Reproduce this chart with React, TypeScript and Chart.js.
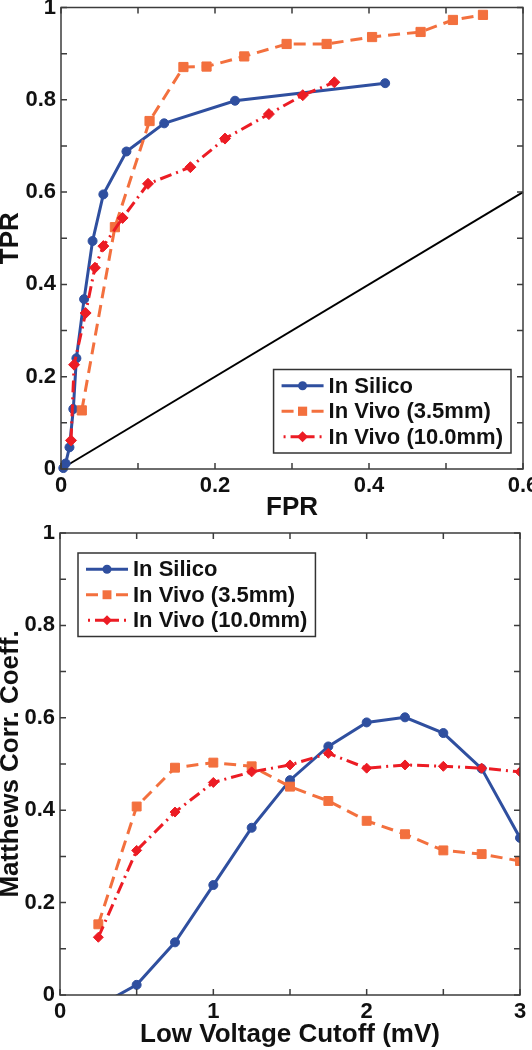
import React, { useEffect, useRef } from 'react';
import { Chart, registerables } from 'chart.js';

Chart.register(...registerables);

const FONT = '"Liberation Sans", Arial, Helvetica, sans-serif';
const BLUE = '#2f4f9f';
const ORANGE = '#f3703e';
const RED = '#ec1c24';
const AXIS = '#3c3c3c';

// ---- ROC curve data (top panel) ----
const silicoFpr = [0.003, 0.006, 0.011, 0.016, 0.02, 0.03, 0.041, 0.055, 0.085, 0.134, 0.226, 0.421];
const silicoTpr = [0.002, 0.012, 0.047, 0.13, 0.24, 0.368, 0.494, 0.595, 0.688, 0.749, 0.798, 0.836];
const vivo35Fpr = [0.027, 0.07, 0.115, 0.159, 0.189, 0.238, 0.293, 0.345, 0.404, 0.467, 0.509, 0.548];
const vivo35Tpr = [0.127, 0.524, 0.754, 0.871, 0.872, 0.894, 0.921, 0.921, 0.936, 0.947, 0.973, 0.984];
const vivo10Fpr = [0.013, 0.017, 0.032, 0.044, 0.055, 0.08, 0.113, 0.168, 0.213, 0.27, 0.314, 0.355];
const vivo10Tpr = [0.062, 0.226, 0.338, 0.436, 0.483, 0.544, 0.618, 0.654, 0.716, 0.769, 0.81, 0.838];
const chanceFpr = [0, 0.6];
const chanceTpr = [0, 0.6];

// ---- Matthews correlation data (bottom panel) ----
const cutoffs = [0.25, 0.5, 0.75, 1.0, 1.25, 1.5, 1.75, 2.0, 2.25, 2.5, 2.75, 3.0];
const silicoMcc = [-0.024, 0.022, 0.114, 0.238, 0.362, 0.465, 0.538, 0.59, 0.601, 0.567, 0.49, 0.34];
const vivo35Mcc = [0.153, 0.408, 0.492, 0.503, 0.495, 0.451, 0.42, 0.377, 0.348, 0.313, 0.305, 0.29];
const vivo10Mcc = [0.125, 0.313, 0.396, 0.46, 0.483, 0.498, 0.523, 0.491, 0.498, 0.495, 0.491, 0.483];

const seriesLabels = ['In Silico', 'In Vivo (3.5mm)', 'In Vivo (10.0mm)'];

const zip = (xs: number[], ys: number[]) => xs.map((x, i) => ({ x, y: ys[i] }));
const isMultiple = (v: number, step: number) => Math.abs(v / step - Math.round(v / step)) < 1e-6;
const fmt = (v: number) => String(Math.round(v * 10) / 10);

const tickFont = { family: FONT, size: 22, weight: 'bold' as const };
const titleFont = { family: FONT, size: 26, weight: 'bold' as const };

function drawMarker(ctx: CanvasRenderingContext2D, style: string, x: number, y: number, r: number) {
  ctx.beginPath();
  if (style === 'circle') {
    ctx.arc(x, y, r, 0, Math.PI * 2);
  } else if (style === 'rect') {
    const s = Math.SQRT1_2 * r;
    ctx.rect(x - s, y - s, 2 * s, 2 * s);
  } else {
    ctx.moveTo(x - r, y);
    ctx.lineTo(x, y - r);
    ctx.lineTo(x + r, y);
    ctx.lineTo(x, y + r);
    ctx.closePath();
  }
  ctx.fill();
}

const framePlugin = {
  id: 'frame',
  afterDatasetsDraw(chart: any, _args: any, opts: any) {
    const { ctx, chartArea: a, scales } = chart;
    ctx.save();
    ctx.strokeStyle = opts.color;
    ctx.lineWidth = opts.lineWidth;
    ctx.setLineDash([]);
    ctx.strokeRect(a.left, a.top, a.right - a.left, a.bottom - a.top);
    const L = opts.tickLength;
    ctx.beginPath();
    for (const t of scales.x.ticks) {
      const px = scales.x.getPixelForValue(t.value);
      ctx.moveTo(px, a.bottom);
      ctx.lineTo(px, a.bottom - L);
      ctx.moveTo(px, a.top);
      ctx.lineTo(px, a.top + L);
    }
    for (const t of scales.y.ticks) {
      const py = scales.y.getPixelForValue(t.value);
      ctx.moveTo(a.left, py);
      ctx.lineTo(a.left + L, py);
      ctx.moveTo(a.right, py);
      ctx.lineTo(a.right - L, py);
    }
    ctx.stroke();
    ctx.restore();
  },
};

const legendPlugin = {
  id: 'boxLegend',
  afterDraw(chart: any, _args: any, opts: any) {
    const { ctx, chartArea: a } = chart;
    const items = chart.data.datasets.filter((d: any) => d.label);
    ctx.save();
    ctx.font = `bold ${opts.fontSize}px ${FONT}`;
    const textW = Math.max(...items.map((d: any) => ctx.measureText(d.label).width));
    const w = opts.padLeft + opts.sample + opts.gap + textW + opts.padRight;
    const h = opts.padV * 2 + opts.rowHeight * items.length;
    const x0 = opts.left !== undefined ? a.left + opts.left : a.right - opts.right - w;
    const y0 = opts.top !== undefined ? a.top + opts.top : a.bottom - opts.bottom - h;
    ctx.fillStyle = '#fff';
    ctx.fillRect(x0, y0, w, h);
    ctx.strokeStyle = opts.borderColor;
    ctx.lineWidth = opts.borderWidth;
    ctx.strokeRect(x0, y0, w, h);
    items.forEach((d: any, i: number) => {
      const cy = y0 + opts.padV + opts.rowHeight * (i + 0.5);
      const cx = x0 + opts.padLeft + opts.sample / 2;
      const half = opts.sample / 2;
      ctx.strokeStyle = d.borderColor;
      ctx.lineWidth = d.borderWidth;
      ctx.setLineDash(d.borderDash || []);
      ctx.lineDashOffset = d.legendDashOffset || 0;
      for (const dir of [-1, 1]) {
        ctx.beginPath();
        ctx.moveTo(cx, cy);
        ctx.lineTo(cx + dir * half, cy);
        ctx.stroke();
      }
      ctx.setLineDash([]);
      ctx.fillStyle = d.pointBackgroundColor;
      drawMarker(ctx, d.pointStyle, cx, cy, d.pointRadius);
      ctx.fillStyle = '#111';
      ctx.textBaseline = 'middle';
      ctx.textAlign = 'left';
      ctx.fillText(d.label, x0 + opts.padLeft + opts.sample + opts.gap, cy + 1);
    });
    ctx.restore();
  },
};

const legendStyle = {
  fontSize: 22,
  rowHeight: 25.5,
  padV: 3.5,
  padLeft: 8,
  sample: 42,
  gap: 5,
  padRight: 8,
  borderColor: '#333',
  borderWidth: 1.5,
};

function makeSeries(dataA: any[], dataB: any[], dataC: any[], r: { circle: number; rect: number; diamond: number }, clip: any) {
  return [
    {
      label: seriesLabels[0],
      data: dataA,
      borderColor: BLUE,
      backgroundColor: BLUE,
      borderWidth: 3,
      pointStyle: 'circle',
      pointRadius: r.circle,
      pointBackgroundColor: BLUE,
      pointBorderColor: BLUE,
      pointBorderWidth: 1,
      order: 2,
      clip,
    },
    {
      label: seriesLabels[1],
      data: dataB,
      borderColor: ORANGE,
      backgroundColor: ORANGE,
      borderWidth: 3,
      borderDash: [12, 7],
      legendDashOffset: 10,
      pointStyle: 'rect',
      pointRadius: r.rect,
      pointBackgroundColor: ORANGE,
      pointBorderColor: ORANGE,
      pointBorderWidth: 1,
      order: 1,
      clip,
    },
    {
      label: seriesLabels[2],
      data: dataC,
      borderColor: RED,
      backgroundColor: RED,
      borderWidth: 3,
      borderDash: [12, 5, 2, 5],
      pointStyle: 'rectRot',
      pointRadius: r.diamond,
      pointBackgroundColor: RED,
      pointBorderColor: RED,
      pointBorderWidth: 1,
      order: 0,
      clip,
    },
  ];
}

function axis(opts: {
  min: number;
  max: number;
  step: number;
  labelStep: number;
  title: string;
  titleFont: any;
  titlePadding: any;
  padding: number;
  size: number;
  horizontal: boolean;
}) {
  return {
    type: 'linear',
    min: opts.min,
    max: opts.max,
    grid: { display: false, drawTicks: false },
    border: { display: false },
    ticks: {
      stepSize: opts.step,
      autoSkip: false,
      maxRotation: 0,
      minRotation: 0,
      padding: opts.padding,
      color: '#111',
      font: tickFont,
      callback: (v: number) => (isMultiple(v, opts.labelStep) ? fmt(v) : ''),
    },
    title: {
      display: true,
      text: opts.title,
      color: '#111',
      font: opts.titleFont,
      padding: opts.titlePadding,
    },
    afterFit: (s: any) => {
      if (opts.horizontal) {
        s.height = opts.size;
        s.paddingLeft = 0;
        s.paddingRight = 0;
      } else {
        s.width = opts.size;
        s.paddingTop = 0;
        s.paddingBottom = 0;
      }
    },
  };
}

function rocConfig(): any {
  const datasets: any[] = makeSeries(
    zip(silicoFpr, silicoTpr),
    zip(vivo35Fpr, vivo35Tpr),
    zip(vivo10Fpr, vivo10Tpr),
    { circle: 4.5, rect: 6.5, diamond: 5.5 },
    false
  );
  datasets.push({
    label: '',
    data: zip(chanceFpr, chanceTpr),
    borderColor: '#000',
    borderWidth: 2,
    pointRadius: 0,
    order: 3,
    clip: false,
  });
  return {
    type: 'line',
    data: { datasets },
    options: {
      animation: false,
      responsive: false,
      devicePixelRatio: 1,
      events: [],
      layout: { padding: { left: 0, top: 5, right: 9, bottom: 0 } },
      plugins: {
        legend: { display: false },
        tooltip: { enabled: false },
        frame: { color: AXIS, lineWidth: 1.5, tickLength: 6 },
        boxLegend: { ...legendStyle, right: 12, bottom: 16 },
      },
      scales: {
        x: axis({ min: 0, max: 0.6, step: 0.1, labelStep: 0.2, title: 'FPR', titleFont, titlePadding: { top: 0, bottom: 2 }, padding: 4, size: 56, horizontal: true }),
        y: axis({ min: 0, max: 1, step: 0.1, labelStep: 0.2, title: 'TPR', titleFont: { ...titleFont, lineHeight: '22px' }, titlePadding: { top: 0, bottom: 0 }, padding: 5, size: 61, horizontal: false }),
      },
    },
    plugins: [framePlugin, legendPlugin],
  };
}

function mccConfig(): any {
  const datasets: any[] = makeSeries(
    zip(cutoffs, silicoMcc),
    zip(cutoffs, vivo35Mcc),
    zip(cutoffs, vivo10Mcc),
    { circle: 4.5, rect: 6.3, diamond: 5 },
    undefined
  );
  return {
    type: 'line',
    data: { datasets },
    options: {
      animation: false,
      responsive: false,
      devicePixelRatio: 1,
      events: [],
      layout: { padding: { left: 0, top: 8, right: 12, bottom: 0 } },
      plugins: {
        legend: { display: false },
        tooltip: { enabled: false },
        frame: { color: AXIS, lineWidth: 1.5, tickLength: 6 },
        boxLegend: { ...legendStyle, left: 18, top: 20 },
      },
      scales: {
        x: axis({ min: 0, max: 3, step: 0.5, labelStep: 1, title: 'Low Voltage Cutoff (mV)', titleFont, titlePadding: { top: 0, bottom: 0 }, padding: 4, size: 55, horizontal: true }),
        y: axis({ min: 0, max: 1, step: 0.1, labelStep: 0.2, title: 'Matthews Corr. Coeff.', titleFont: { ...titleFont, lineHeight: '22px' }, titlePadding: { top: 0, bottom: 0 }, padding: 5, size: 60, horizontal: false }),
      },
    },
    plugins: [framePlugin, legendPlugin],
  };
}

function ChartCanvas({ makeConfig, top }: { makeConfig: () => any; top: number }) {
  const ref = useRef<HTMLCanvasElement>(null);
  useEffect(() => {
    const chart = new Chart(ref.current as HTMLCanvasElement, makeConfig());
    return () => chart.destroy();
  }, []);
  return (
    <canvas
      ref={ref}
      width={532}
      height={525}
      style={{ position: 'absolute', left: 0, top, width: 532, height: 525, display: 'block' }}
    />
  );
}

export default function App() {
  return (
    <div
      style={{
        position: 'absolute',
        left: 0,
        top: 0,
        width: 532,
        height: 1050,
        overflow: 'hidden',
        background: '#fff',
      }}
    >
      <ChartCanvas makeConfig={rocConfig} top={0} />
      <ChartCanvas makeConfig={mccConfig} top={525} />
    </div>
  );
}
